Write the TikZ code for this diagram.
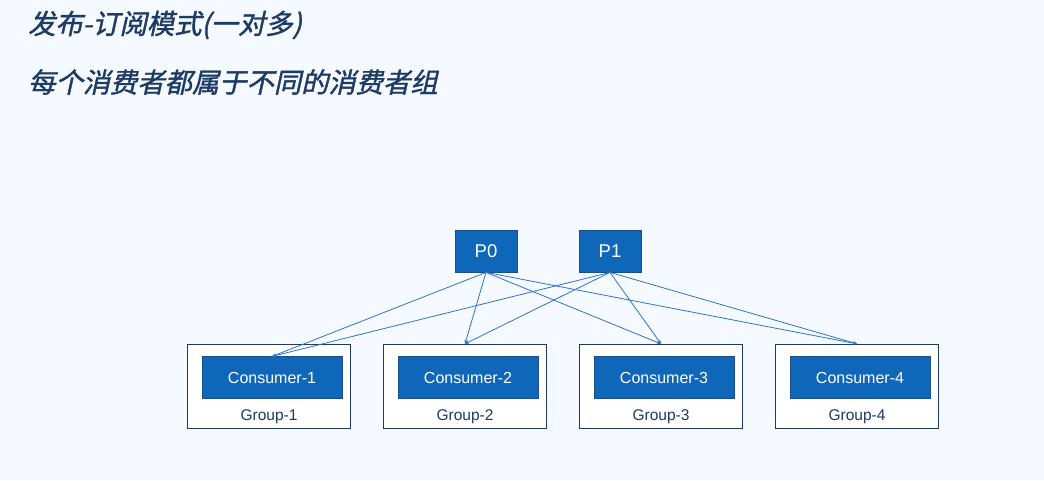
\documentclass[tikz,border=0pt]{standalone}
\usepackage{fontspec}
\setmainfont{Liberation Sans}
\newfontfamily\cjk[FakeSlant=0.22,FakeBold=1.4]{Noto Sans CJK SC}
\usetikzlibrary{arrows.meta}
\definecolor{bgc}{HTML}{F4FAFF}
\definecolor{boxblue}{HTML}{0F67B9}
\definecolor{boxedge}{HTML}{1B4F8A}
\definecolor{navy}{HTML}{1F3864}
\definecolor{linec}{HTML}{2E75C5}
\definecolor{titlec}{HTML}{1F3A64}
\tikzset{
  pnode/.style={rectangle, fill=boxblue, draw=boxedge, line width=0.8pt, minimum width=62pt, minimum height=42pt, text=white, font=\fontsize{18.5}{20}\selectfont, inner sep=0pt},
  cnode/.style={rectangle, fill=boxblue, draw=boxedge, line width=0.8pt, minimum width=140pt, minimum height=42pt, text=white, font=\fontsize{16}{18}\selectfont, inner sep=0pt},
  gnode/.style={rectangle, fill=white, draw=navy, line width=0.9pt, minimum width=163pt, minimum height=84pt, inner sep=0pt},
  glabel/.style={text=navy, font=\fontsize{15.5}{18}\selectfont, inner sep=0pt},
  conn/.style={draw=linec, line width=0.8pt, -{Stealth[length=4pt,width=3.5pt]}},
  ttl/.style={anchor=west, text=titlec, font=\cjk\fontsize{27.3}{30}\selectfont, inner sep=0pt}
}
\begin{document}
\begin{tikzpicture}[x=1pt,y=-1pt]
\fill[bgc] (0,0) rectangle (1044,480);
\useasboundingbox (0,0) rectangle (1044,480);
\node[ttl] (t1) at (28,25) {发布-订阅模式(一对多)};
\node[ttl] (t2) at (28,82) {每个消费者都属于不同的消费者组};
\node[pnode] (p0) at (486,251) {P0};
\node[pnode] (p1) at (610,251) {P1};
\foreach \i/\gx/\cx in {1/269/272, 2/465/468, 3/661/664, 4/857/860}{
  \node[gnode] (g\i) at (\gx,386.3) {};
  \node[cnode] (c\i) at (\cx,377.8) {Consumer-\i};
  \node[glabel] (l\i) at (\gx,416.5) {Group-\i};
}
\draw[conn] (p0.south) -- (c1.north);
\draw[conn] (p1.south) -- (c1.north);
\draw[conn] (p0.south) -- (g2.north);
\draw[conn] (p1.south) -- (g2.north);
\draw[conn] (p0.south) -- (g3.north);
\draw[conn] (p1.south) -- (g3.north);
\draw[conn] (p0.south) -- (g4.north);
\draw[conn] (p1.south) -- (g4.north);
\end{tikzpicture}
\end{document}
